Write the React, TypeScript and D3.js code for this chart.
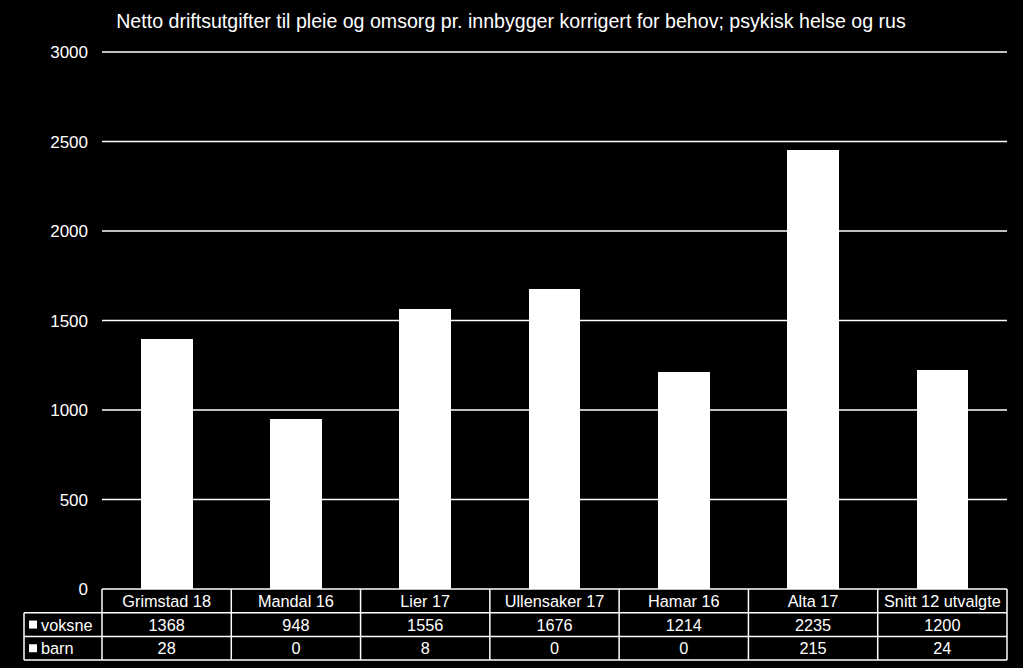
import React from "react";
import * as d3 from "d3";

const categories = ["Grimstad 18", "Mandal 16", "Lier 17", "Ullensaker 17", "Hamar 16", "Alta 17", "Snitt 12 utvalgte"];
const voksne = [1368, 948, 1556, 1676, 1214, 2235, 1200];
const barn = [28, 0, 8, 0, 0, 215, 24];
const seriesNames = ["voksne", "barn"];
const yTicks = [0, 500, 1000, 1500, 2000, 2500, 3000];
const title = "Netto driftsutgifter til pleie og omsorg pr. innbygger korrigert for behov; psykisk helse og rus";

const W = 1023, H = 668;
const left = 102, right = 1007, top = 52, bottom = 589;
const rowH = 23.7;
const tableLeft = 24;
const font = "'Liberation Sans', Arial, sans-serif";

export default function App() {
  const x = d3.scaleBand<string>().domain(categories).range([left, right]).paddingInner(0).paddingOuter(0);
  const y = d3.scaleLinear().domain([0, 3000]).range([bottom, top]);
  const bw = x.bandwidth() * 0.4;
  const rows = [voksne, barn];
  const tableBottom = bottom + rowH * 3;
  return (
    <svg width={W} height={H} style={{ position: "absolute", left: 0, top: 0, background: "#000" }}>
      <rect x={0} y={0} width={W} height={H} fill="#000" />
      <text x={511} y={28} fill="#fff" fontFamily={font} fontSize={19.6} textAnchor="middle">{title}</text>
      {yTicks.map(t => (
        <g key={t}>
          {t > 0 && <line x1={left} x2={right} y1={y(t)} y2={y(t)} stroke="#fff" strokeWidth={1.5} />}
          <text x={88} y={y(t) + 6} fill="#fff" fontFamily={font} fontSize={17} textAnchor="end">{t}</text>
        </g>
      ))}
      {categories.map((c, i) => {
        const cx = (x(c) as number) + x.bandwidth() / 2;
        return (
          <g key={c} shapeRendering="crispEdges">
            <rect x={cx - bw / 2} y={y(voksne[i])} width={bw} height={y(0) - y(voksne[i])} fill="#fff" />
            <rect x={cx - bw / 2} y={y(voksne[i] + barn[i])} width={bw} height={y(voksne[i]) - y(voksne[i] + barn[i]) + 1} fill="#fff" />
          </g>
        );
      })}
      {/* table */}
      <g stroke="#fff" strokeWidth={1.5} fill="none">
        <line x1={left} x2={right} y1={bottom} y2={bottom} />
        <line x1={tableLeft} x2={right} y1={bottom + rowH} y2={bottom + rowH} />
        <line x1={tableLeft} x2={right} y1={bottom + rowH * 2} y2={bottom + rowH * 2} />
        <line x1={tableLeft} x2={right} y1={tableBottom} y2={tableBottom} />
        <line x1={tableLeft} x2={tableLeft} y1={bottom + rowH} y2={tableBottom} />
        {categories.map(c => (
          <line key={c} x1={x(c) as number} x2={x(c) as number} y1={bottom} y2={tableBottom} />
        ))}
        <line x1={right} x2={right} y1={bottom} y2={tableBottom} />
      </g>
      {categories.map(c => (
        <text key={c} x={(x(c) as number) + x.bandwidth() / 2} y={bottom + rowH / 2 + 6} fill="#fff" fontFamily={font} fontSize={16.3} textAnchor="middle">{c}</text>
      ))}
      {rows.map((r, ri) => (
        <g key={ri}>
          <rect x={tableLeft + 5} y={bottom + rowH * (ri + 1) + rowH / 2 - 4} width={8} height={8} fill="#fff" />
          <text x={tableLeft + 17} y={bottom + rowH * (ri + 1) + rowH / 2 + 6} fill="#fff" fontFamily={font} fontSize={16.3}>{seriesNames[ri]}</text>
          {r.map((v, i) => (
            <text key={i} x={(x(categories[i]) as number) + x.bandwidth() / 2} y={bottom + rowH * (ri + 1) + rowH / 2 + 6} fill="#fff" fontFamily={font} fontSize={16.3} textAnchor="middle">{v}</text>
          ))}
        </g>
      ))}
    </svg>
  );
}
